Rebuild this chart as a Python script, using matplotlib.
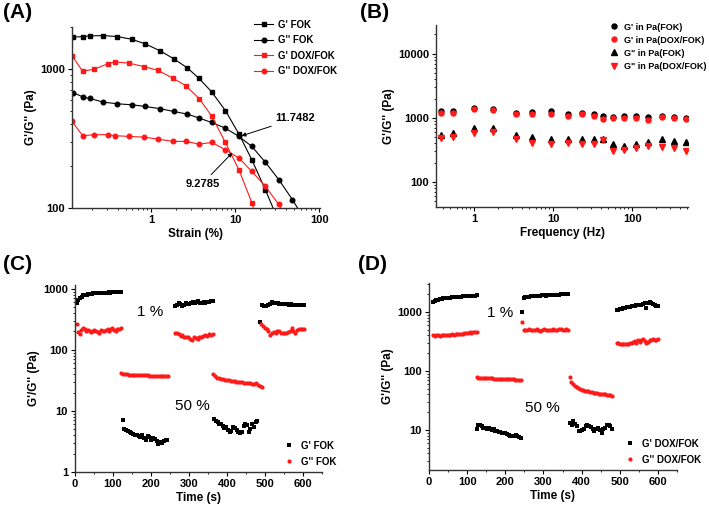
import numpy as np
import matplotlib
matplotlib.use('Agg')
import matplotlib.pyplot as plt
from matplotlib.ticker import FixedLocator, FixedFormatter, LogLocator, NullFormatter, MultipleLocator

plt.rcParams['font.family'] = ['Liberation Sans', 'DejaVu Sans']
plt.rcParams['font.weight'] = 'bold'

# ---------------- (A) strain sweep ----------------
a_strain_fok = [0.118, 0.156, 0.187, 0.27, 0.398, 0.59, 0.855, 1.29, 1.87, 2.70, 3.73, 5.25, 7.65, 11.07, 15.8, 22.9, 33.0]
a_gp_fok = [1690, 1707, 1726, 1735, 1707, 1633, 1512, 1346, 1180, 1017, 853, 684, 502, 341, 222, 135, 80]
a_strain_fok2 = [0.118, 0.156, 0.187, 0.27, 0.398, 0.59, 0.855, 1.29, 1.87, 2.70, 3.73, 5.25, 7.65, 11.07, 15.8, 22.9, 33.0, 47.9, 69.0]
a_gpp_fok = [676, 627, 613, 577, 561, 552, 537, 517, 494, 473, 443, 412, 375, 327, 277, 213, 160, 115, 80]
a_strain_dox = [0.115, 0.154, 0.209, 0.305, 0.373, 0.55, 0.817, 1.2, 1.82, 2.58, 3.73, 5.3, 7.65, 11.1, 15.8, 22.9, 33.0, 47.9]
a_gp_dox = [1240, 962, 994, 1086, 1122, 1099, 1039, 978, 857, 759, 612, 455, 296, 188, 109, 50, None, None]
a_gpp_dox = [419, 331, 336, 337, 331, 327, 323, 313, 301, 301, 288, 296, 262, 229, 183, 143, 106, 75]

# ---------------- (B) frequency sweep ----------------
b_freq = [0.383, 0.538, 1.0, 1.76, 3.39, 5.35, 9.3, 15.5, 22.9, 32.8, 43, 57.5, 79, 111, 159, 238, 340, 486]
b_gp_fok = [1302, 1287, 1450, 1399, 1211, 1226, 1271, 1169, 1211, 1141, 1075, 1049, 1075, 1075, 1049, 1075, 1049, 990]
b_gp_dox = [1211, 1211, 1382, 1334, 1155, 1169, 1169, 1075, 1141, 1075, 965, 1000, 1000, 988, 942, 1037, 1000, 976]
b_gpp_fok = [542, 590, 691, 691, 542, 499, 464, 464, 464, 464, 464, 393, 365, 393, 427, 464, 437, 427]
b_gpp_dox = [481, 499, 590, 611, 470, 412, 393, 402, 393, 393, 453, 309, 316, 340, 365, 356, 336, 309]

# ---------------- (C) step strain FOK ----------------
c_seg_gp = [(4, 120), (125, 243), (263, 362), (366, 480), (488, 603)]
c_gp = [
    [580, 650, 700, 720, 780, 790, 800, 810, 820, 830, 840, 840, 850, 845, 850, 860, 855, 860, 865, 870, 860, 880, 870, 890, 880, 900, 880],
    [7.2, 5.0, 4.9, 4.7, 4.5, 4.4, 4.2, 4.0, 4.1, 3.9, 3.7, 4.0, 3.6, 3.4, 3.9, 3.8, 3.3, 3.6, 3.5, 3.2, 2.9, 3.1, 3.0, 3.2, 3.3, 3.4],
    [520, 540, 580, 560, 530, 550, 590, 570, 560, 580, 600, 590, 610, 620, 590, 580, 600, 590, 600, 610, 620, 630],
    [7.3, 6.8, 6.5, 6.2, 6.0, 5.6, 5.2, 5.5, 4.8, 4.5, 4.7, 5.5, 5.2, 4.8, 4.5, 4.4, 4.6, 5.6, 6.0, 5.8, 4.5, 5.0, 6.2, 5.5, 6.5, 6.8],
    [280, 540, 530, 530, 550, 560, 600, 590, 580, 580, 570, 570, 560, 560, 560, 550, 560, 550, 550, 545, 540, 550, 540, 545],
]
c_seg_gpp = [(4, 120), (122, 245), (263, 362), (364, 491), (490, 603)]
c_gpp = [
    [265, 195, 180, 210, 230, 220, 200, 210, 200, 195, 200, 210, 205, 195, 190, 210, 205, 200, 210, 220, 200, 215, 230, 210, 200, 220, 215, 225],
    [41, 40, 40, 39.5, 39, 39, 39, 38.5, 38.5, 38.5, 38, 38, 38, 38, 38, 37.8, 37.8, 37.5, 37.5, 37.5, 37.5, 37.5, 37.5, 37.3, 37.3, 37],
    [190, 185, 180, 170, 175, 165, 160, 165, 150, 145, 160, 155, 150, 165, 160, 170, 175, 170, 180, 175, 180],
    [40, 37, 35, 34, 33.5, 33, 32.5, 32, 31.5, 31, 30.5, 30.5, 30, 30, 29.5, 29.5, 29, 29, 28.5, 28.5, 28, 28, 29, 27, 26, 25],
    [260, 245, 230, 220, 200, 175, 190, 195, 190, 200, 200, 190, 185, 190, 185, 195, 200, 230, 205, 190, 210, 215, 220, 215, 220],
]

# ---------------- (D) step strain DOX/FOK ----------------
d_seg = [(10, 125), (125, 240), (243, 365), (369, 480), (492, 600)]
d_gp = [
    [1480, 1550, 1600, 1620, 1650, 1680, 1700, 1720, 1720, 1750, 1760, 1780, 1780, 1800, 1810, 1820, 1830, 1840, 1840, 1860, 1870, 1880, 1890, 1900, 1900, 1920],
    [10.5, 12, 12, 11.5, 11, 11, 10.5, 10.8, 10.5, 10, 10.2, 9.8, 9.5, 9.2, 9.3, 9.0, 9.0, 8.8, 8.5, 8.3, 8.0, 7.8, 8.0, 8.2, 7.8, 7.5, 7.2],
    [1000, 1720, 1780, 1800, 1830, 1850, 1870, 1880, 1900, 1890, 1900, 1910, 1920, 1900, 1920, 1930, 1940, 1950, 1950, 1960, 1970, 1980, 1990, 2000, 2000, 2010],
    [13.1, 12.3, 14, 12.5, 11.5, 9.5, 9.5, 10, 10.5, 11.6, 12.3, 11.5, 11.3, 10.3, 9.5, 10.5, 11, 10, 9, 10.6, 11, 12, 12.3, 11.5, 10.5],
    [1100, 1100, 1120, 1130, 1150, 1180, 1200, 1220, 1230, 1250, 1270, 1280, 1290, 1300, 1310, 1320, 1350, 1400, 1180, 1430, 1450, 1400, 1350, 1320, 1280, 1250],
]
d_gpp = [
    [400, 395, 405, 400, 395, 410, 400, 405, 410, 415, 405, 420, 415, 420, 425, 430, 425, 430, 440, 435, 445, 450, 440, 455, 450, 460],
    [78, 77, 77, 76, 76, 76, 75, 75, 75, 75, 74, 74, 74, 74, 73, 73, 73, 73, 72, 72, 72, 72, 71, 71, 71, 70],
    [680, 490, 500, 495, 510, 505, 490, 500, 520, 500, 480, 505, 510, 495, 500, 505, 500, 510, 495, 505, 510, 515, 505, 500, 510, 505],
    [80, 66, 60, 56, 53, 51, 50, 48.5, 47.5, 46.5, 45.5, 45, 44, 43.5, 43, 42.5, 42, 41.5, 41, 40.5, 40, 40, 39.5, 39, 38.5, 38],
    [300, 295, 290, 290, 285, 290, 285, 290, 300, 295, 310, 320, 300, 330, 310, 340, 350, 320, 300, 310, 330, 340, 350, 330, 340, 345],
]

RED = '#ff1a1a'
W, H = 709, 509
fig = plt.figure(figsize=(W / 100, H / 100), dpi=100)


def box(l, t, r, b):
    return [l / W, 1 - b / H, (r - l) / W, (b - t) / H]


def style(ax):
    for s in ['top', 'right']:
        ax.spines[s].set_visible(False)
    for s in ['left', 'bottom']:
        ax.spines[s].set_linewidth(1.0)
        ax.spines[s].set_color('#333333')
    ax.tick_params(which='major', direction='out', length=3, width=0.8, labelsize=8, pad=2)
    ax.tick_params(which='minor', direction='out', length=1.5, width=0.6)
    for lab in ax.get_xticklabels() + ax.get_yticklabels():
        lab.set_fontweight('bold')


def set_ticks(axis, vals, labels):
    axis.set_major_locator(FixedLocator(vals))
    axis.set_major_formatter(FixedFormatter(labels))
    axis.set_minor_locator(LogLocator(base=10, subs=np.arange(2, 10)))
    axis.set_minor_formatter(NullFormatter())


# ---- A ----
axA = fig.add_axes(box(72, 27, 320, 208))
axA.set_xscale('log')
axA.set_yscale('log')
axA.plot(a_strain_fok, a_gp_fok, '-s', color='black', lw=0.8, ms=3.3, label="G' FOK")
axA.plot(a_strain_fok2, a_gpp_fok, '-o', color='black', lw=0.8, ms=3.3, label="G'' FOK")
axA.plot(a_strain_dox, [np.nan if v is None else v for v in a_gp_dox], '-s', color=RED, lw=0.8, ms=3.3, label="G' DOX/FOK")
axA.plot(a_strain_dox, a_gpp_dox, '-o', color=RED, lw=0.8, ms=3.3, label="G'' DOX/FOK")
axA.set_xlim(0.115, 102)
axA.set_ylim(100, 2000)
set_ticks(axA.xaxis, [1, 10, 100], ['1', '10', '100'])
set_ticks(axA.yaxis, [100, 1000], ['100', '1000'])
axA.set_xlabel('Strain (%)', fontsize=8.5, fontweight='bold', labelpad=2)
axA.set_ylabel("G'/G'' (Pa)", fontsize=8.5, fontweight='bold', labelpad=2)
axA.annotate('11.7482', xy=(11.9, 330), xytext=(30, 440), fontsize=8, fontweight='bold',
             ha='left', va='center',
             arrowprops=dict(arrowstyle='-|>', lw=0.7, color='black', mutation_scale=6, shrinkA=1, shrinkB=0))
axA.annotate('9.2785', xy=(9.28, 250), xytext=(4.1, 150), fontsize=8, fontweight='bold',
             ha='center', va='center',
             arrowprops=dict(arrowstyle='-|>', lw=0.7, color='black', mutation_scale=6, shrinkA=1, shrinkB=0))
axA.legend(loc='upper left', bbox_to_anchor=(249 / W, 1 - 15 / H), bbox_transform=fig.transFigure,
           frameon=False, fontsize=7, handlelength=2.0, handletextpad=0.5, labelspacing=0.55, borderpad=0)
style(axA)

# ---- B ----
axB = fig.add_axes(box(436, 25, 688, 207))
axB.set_xscale('log')
axB.set_yscale('log')
axB.plot(b_freq, b_gp_fok, 'o', color='black', ms=3.6, label="G' in Pa(FOK)")
axB.plot(b_freq, b_gp_dox, 'o', color=RED, ms=3.6, label="G' in Pa(DOX/FOK)")
axB.plot(b_freq, b_gpp_fok, '^', color='black', ms=3.8, label='G" in Pa(FOK)')
axB.plot(b_freq, b_gpp_dox, 'v', color=RED, ms=3.8, label='G" in Pa(DOX/FOK)')
axB.set_xlim(0.33, 510)
axB.set_ylim(41, 28000)
set_ticks(axB.xaxis, [1, 10, 100], ['1', '10', '100'])
set_ticks(axB.yaxis, [100, 1000, 10000], ['100', '1000', '10000'])
axB.set_xlabel('Frequency (Hz)', fontsize=8.5, fontweight='bold', labelpad=2)
axB.set_ylabel("G'/G'' (Pa)", fontsize=8.5, fontweight='bold', labelpad=2)
axB.legend(loc='upper left', bbox_to_anchor=(605 / W, 1 - 18 / H), bbox_transform=fig.transFigure,
           frameon=False, fontsize=6.5, handlelength=1.0, handletextpad=0.6, labelspacing=0.45, borderpad=0)
style(axB)


def step_panel(ax, segs_gp, gp, segs_gpp, gpp, lab_gp, lab_gpp):
    for i, ((t0, t1), v) in enumerate(zip(segs_gp, gp)):
        ax.plot(np.linspace(t0, t1, len(v)), v, 's', color='black', ms=2.8, mew=0,
                label=lab_gp if i == 0 else None)
    for i, ((t0, t1), v) in enumerate(zip(segs_gpp, gpp)):
        ax.plot(np.linspace(t0, t1, len(v)), v, 'o', color=RED, ms=3.0, mew=0,
                label=lab_gpp if i == 0 else None)
    ax.set_yscale('log')
    ax.set_xlim(0, 650)
    ax.xaxis.set_major_locator(MultipleLocator(100))
    ax.xaxis.set_minor_locator(MultipleLocator(50))
    ax.set_xlabel('Time (s)', fontsize=8.5, fontweight='bold', labelpad=2)
    ax.set_ylabel("G'/G'' (Pa)", fontsize=8.5, fontweight='bold', labelpad=2)


# ---- C ----
axC = fig.add_axes(box(75, 285, 322, 472))
step_panel(axC, c_seg_gp, c_gp, c_seg_gpp, c_gpp, "G' FOK", "G'' FOK")
axC.set_ylim(1, 1150)
set_ticks(axC.yaxis, [1, 10, 100, 1000], ['1', '10', '100', '1000'])
axC.text(197, 0.856, '1 %', transform=axC.get_xaxis_transform(), fontsize=11, fontweight='normal', ha='center', va='center')
axC.text(310, 0.353, '50 %', transform=axC.get_xaxis_transform(), fontsize=11, fontweight='normal', ha='center', va='center')
axC.legend(loc='upper left', bbox_to_anchor=(279 / W, 1 - 436 / H), bbox_transform=fig.transFigure,
           frameon=False, fontsize=7, handlelength=1.0, handletextpad=0.8, labelspacing=0.6, borderpad=0)
style(axC)

# ---- D ----
axD = fig.add_axes(box(429, 283, 677, 470))
step_panel(axD, d_seg, d_gp, d_seg, d_gpp, "G' DOX/FOK", "G'' DOX/FOK")
axD.set_ylim(2.1, 3100)
set_ticks(axD.yaxis, [10, 100, 1000], ['10', '100', '1000'])
axD.text(186, 0.84, '1 %', transform=axD.get_xaxis_transform(), fontsize=11, fontweight='normal', ha='center', va='center')
axD.text(296, 0.33, '50 %', transform=axD.get_xaxis_transform(), fontsize=11, fontweight='normal', ha='center', va='center')
axD.legend(loc='upper left', bbox_to_anchor=(620 / W, 1 - 434 / H), bbox_transform=fig.transFigure,
           frameon=False, fontsize=7, handlelength=1.0, handletextpad=0.8, labelspacing=0.6, borderpad=0)
style(axD)

# panel letters
for txt, x, y in [('(A)', 3, 3), ('(B)', 360, 3), ('(C)', 3, 255), ('(D)', 358, 255)]:
    fig.text(x / W, 1 - y / H, txt, fontsize=15, fontweight='bold', ha='left', va='top')

fig.savefig('out.png', dpi=100)
